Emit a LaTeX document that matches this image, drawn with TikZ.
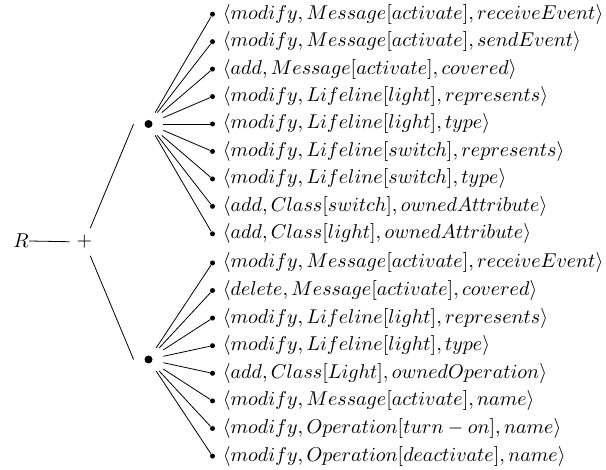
\documentclass[tikz,border=0pt]{standalone}
\usepackage{amsmath}
\begin{document}
\begin{tikzpicture}[x=0.5pt,y=-0.5pt,
  edge/.style={line width=0.4pt},
  hub/.style={rectangle,minimum width=14.5pt,minimum height=11pt,inner sep=0pt},
  hubdot/.style={circle,fill,inner sep=0pt,minimum size=4pt},
  leafdot/.style={circle,fill,inner sep=0pt,minimum size=2.5pt},
  leaftext/.style={anchor=west,inner sep=0pt}]
\useasboundingbox (0,0) rectangle (606,470);
\node[inner sep=0pt] (r) at (21,241) {$R$};
\node[minimum height=13.5pt] (p) at (84.5,242) {$+$};
\draw[edge] (r.east) -- (p);
% hubs
\node[hub] (u) at (148.5,124) {};
\node[hubdot] at (u) {};
\node[hub] (d) at (148.5,359.5) {};
\node[hubdot] at (d) {};
\draw[edge] (p) -- (u.west);
\draw[edge] (p) -- (d.west);
% upper leaves
\foreach \i/\t in {
 1/{\langle modify, Message[activate], receiveEvent\rangle},
 2/{\langle modify, Message[activate], sendEvent\rangle},
 3/{\langle add, Message[activate], covered\rangle},
 4/{\langle modify, Lifeline[light], represents\rangle},
 5/{\langle modify, Lifeline[light], type\rangle},
 6/{\langle modify, Lifeline[switch], represents\rangle},
 7/{\langle modify, Lifeline[switch], type\rangle},
 8/{\langle add, Class[switch], ownedAttribute\rangle},
 9/{\langle add, Class[light], ownedAttribute\rangle}}{
  \node[leafdot] (ua\i) at (212.5,{124+(\i-5)*27.45}) {};
  \node[leaftext] (ut\i) at (222.5,{124+(\i-5)*27.45}) {$\t$};
  \draw[edge] (u) -- (ua\i);
}
% lower leaves
\foreach \i/\t in {
 1/{\langle modify, Message[activate], receiveEvent\rangle},
 2/{\langle delete, Message[activate], covered\rangle},
 3/{\langle modify, Lifeline[light], represents\rangle},
 4/{\langle modify, Lifeline[light], type\rangle},
 5/{\langle add, Class[Light], ownedOperation\rangle},
 6/{\langle modify, Message[activate], name\rangle},
 7/{\langle modify, Operation[turn-on], name\rangle},
 8/{\langle modify, Operation[deactivate], name\rangle}}{
  \node[leafdot] (da\i) at (212.5,{359.5+(\i-4.5)*27.6}) {};
  \node[leaftext] (dt\i) at (222.5,{359.5+(\i-4.5)*27.6}) {$\t$};
  \draw[edge] (d) -- (da\i);
}
\end{tikzpicture}
\end{document}
